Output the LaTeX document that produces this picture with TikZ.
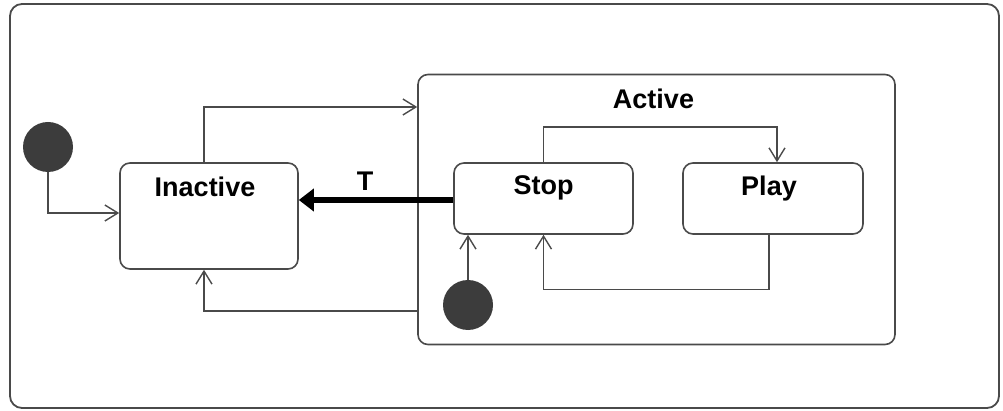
\documentclass[tikz,border=0pt]{standalone}
\usepackage{fontspec}
\setmainfont{Liberation Sans}
\usetikzlibrary{arrows.meta}
\definecolor{edge}{HTML}{4A4A4A}
\definecolor{dot}{HTML}{3C3C3C}
\begin{document}
\begin{tikzpicture}[x=1pt,y=-1pt,
  every node/.style={font=\fontsize{27}{31}\selectfont\bfseries},
  statebox/.style={draw=edge,line width=1.6pt,rounded corners=10pt,fill=white,inner sep=0pt},
  initdot/.style={circle,fill=dot,draw=none,minimum size=50pt,inner sep=0pt},
  trans/.style={draw=edge,line width=1.4pt,-{Straight Barb[length=13pt,width=16pt,line width=1.4pt]}},
]
\useasboundingbox (0,0) rectangle (1003,411);
% outer frame
\node[draw=edge,line width=1.8pt,rounded corners=12pt,minimum width=989pt,minimum height=404pt,inner sep=0pt] (frame) at (504.5,206) {};

% top-level states
\node[initdot] (init1) at (48,147) {};
\node[statebox,minimum width=178pt,minimum height=106pt,
      label={[anchor=center,yshift=-25pt,xshift=-4pt]north:Inactive}] (inactive) at (209,216) {};
\node[statebox,minimum width=477pt,minimum height=270pt,
      label={[anchor=center,yshift=-25pt,xshift=-3pt]north:Active}] (active) at (656.5,209.5) {};

% nested states inside Active
\node[statebox,minimum width=179pt,minimum height=71pt,
      label={[anchor=center,yshift=-26pt]north:Stop}] (stop) at (543.5,198.5) {};
\node[statebox,minimum width=180pt,minimum height=71pt,
      label={[anchor=center,yshift=-26pt,xshift=-4pt]north:Play}] (play) at (773,198.5) {};
\node[initdot] (init2) at (468,305) {};

% helper rows for the routed transitions
\coordinate (rowA) at (0,107);
\coordinate (rowB) at (0,311);

% transitions
\draw[trans] (init1.south) |- ([yshift=3pt]inactive.west);
\draw[trans] ([xshift=-5pt]inactive.north) |- (active.west |- rowA);
\draw[trans] (active.west |- rowB) -| ([xshift=-5pt]inactive.south);
\draw[trans] (stop.north) -- ++(0,-35) -| ([xshift=4pt]play.north);
\draw[trans] ([xshift=-4pt]play.south) -- ++(0,55) -| (stop.south);
\draw[trans] (init2.north) -- (init2.north |- stop.south);

% timeout transition back to Inactive
\draw[line width=5.5pt,black,-{Triangle[length=15pt,width=22pt]}]
  ([yshift=-1.5pt]stop.west) -- ([yshift=-1.5pt]stop.west -| inactive.east)
  node[pos=0.57,anchor=base,yshift=9pt] (tlabel) {T};
\end{tikzpicture}
\end{document}
